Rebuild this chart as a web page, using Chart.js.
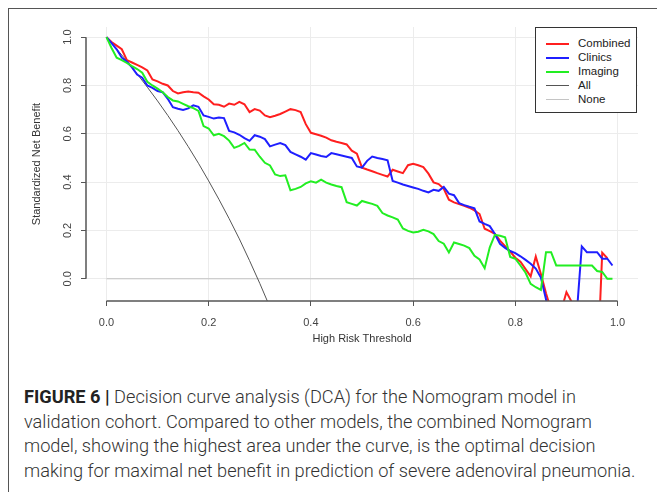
<!DOCTYPE html>
<html>
<head>
<meta charset="utf-8">
<script src="https://cdn.jsdelivr.net/npm/chart.js@4.4.1/dist/chart.umd.min.js"></script>
<style>
  html, body { margin: 0; padding: 0; background: #fff; }
  body { width: 657px; height: 492px; position: relative; overflow: hidden; }
  #frame { position: absolute; left: 8px; top: 8px; width: 700px; height: 520px;
           border-left: 1.5px solid #555; border-top: 1.5px solid #555; }
  #chart { position: absolute; left: 0; top: 0; }
  #legend { position: absolute; left: 535px; top: 27px; width: 100px; height: 84px;
            border: 1px solid #333; background: #fff;
            font-family: "Liberation Sans", Arial, sans-serif; font-size: 11.5px; color: #222; }
  #legend .row { position: absolute; left: 0; height: 14px; line-height: 14px; }
  #legend .sw { position: absolute; left: 10px; width: 23px; top: 7px; }
  #legend .lab { position: absolute; left: 42px; top: 0; white-space: nowrap; }
  #caption { position: absolute; left: 24px; top: 385px; white-space: nowrap;
             font-family: Roboto, "Noto Sans", sans-serif; font-weight: 300;
             font-size: 18.2px; line-height: 24.5px; color: #333; }
  #caption b { font-weight: 700; color: #222; }
</style>
</head>
<body>
<div id="frame"></div>
<canvas id="chart" width="657" height="360"></canvas>
<div id="legend"></div>
<div id="caption">
  <b>FIGURE 6 |</b> Decision curve analysis (DCA) for the Nomogram model in<br>
  validation cohort. Compared to other models, the combined Nomogram<br>
  model, showing the highest area under the curve, is the optimal decision<br>
  making for maximal net benefit in prediction of severe adenoviral pneumonia.
</div>
<script>
// thresholds (x) shared by the three model curves
const thresholds = [
  0.00, 0.01, 0.02, 0.03, 0.04, 0.05, 0.06, 0.07, 0.08, 0.09,
  0.10, 0.11, 0.12, 0.13, 0.14, 0.15, 0.16, 0.17, 0.18, 0.19,
  0.20, 0.21, 0.22, 0.23, 0.24, 0.25, 0.26, 0.27, 0.28, 0.29,
  0.30, 0.31, 0.32, 0.33, 0.34, 0.35, 0.36, 0.37, 0.38, 0.39,
  0.40, 0.41, 0.42, 0.43, 0.44, 0.45, 0.46, 0.47, 0.48, 0.49,
  0.50, 0.51, 0.52, 0.53, 0.54, 0.55, 0.56, 0.57, 0.58, 0.59,
  0.60, 0.61, 0.62, 0.63, 0.64, 0.65, 0.66, 0.67, 0.68, 0.69,
  0.70, 0.71, 0.72, 0.73, 0.74, 0.75, 0.76, 0.77, 0.78, 0.79,
  0.80, 0.81, 0.82, 0.83, 0.84, 0.85, 0.86, 0.87, 0.88, 0.89,
  0.90, 0.91, 0.92, 0.93, 0.94, 0.95, 0.96, 0.97, 0.98, 0.99
];

// standardized net benefit (combined stops at 0.98)
const combined = [
  1.000, 0.980, 0.965, 0.950, 0.905, 0.895, 0.885, 0.875, 0.862, 0.825,
  0.817, 0.807, 0.800, 0.777, 0.767, 0.772, 0.775, 0.772, 0.770, 0.755,
  0.742, 0.722, 0.720, 0.712, 0.725, 0.720, 0.732, 0.722, 0.690, 0.702,
  0.696, 0.676, 0.669, 0.675, 0.682, 0.692, 0.702, 0.698, 0.690, 0.640,
  0.604, 0.598, 0.592, 0.584, 0.573, 0.567, 0.562, 0.556, 0.530, 0.518,
  0.460, 0.452, 0.445, 0.437, 0.430, 0.423, 0.451, 0.444, 0.437, 0.470,
  0.476, 0.470, 0.462, 0.435, 0.399, 0.392, 0.372, 0.327, 0.316, 0.309,
  0.302, 0.294, 0.283, 0.268, 0.207, 0.197, 0.186, 0.158, 0.135, 0.112,
  0.087, 0.071, 0.040, 0.010, 0.092, 0.020, -0.060, -0.130, -0.200, -0.130,
  -0.055, -0.095, -0.200, -0.250, -0.250, -0.250, -0.400, 0.108, 0.085
];
const clinics = [
  1.000, 0.975, 0.950, 0.915, 0.898, 0.875, 0.845, 0.832, 0.800, 0.790,
  0.777, 0.772, 0.745, 0.710, 0.704, 0.699, 0.705, 0.718, 0.712, 0.676,
  0.670, 0.663, 0.667, 0.665, 0.612, 0.606, 0.596, 0.582, 0.571, 0.594,
  0.588, 0.578, 0.548, 0.555, 0.562, 0.553, 0.525, 0.515, 0.505, 0.493,
  0.520, 0.514, 0.508, 0.504, 0.520, 0.515, 0.510, 0.505, 0.500, 0.465,
  0.460, 0.488, 0.506, 0.500, 0.496, 0.490, 0.405, 0.398, 0.390, 0.384,
  0.378, 0.372, 0.364, 0.357, 0.368, 0.364, 0.380, 0.352, 0.346, 0.313,
  0.305, 0.298, 0.292, 0.237, 0.227, 0.218, 0.185, 0.145, 0.128, 0.115,
  0.106, 0.093, 0.078, 0.062, 0.042, 0.005, -0.085, -0.200, -0.250, -0.250,
  -0.250, -0.250, -0.150, 0.134, 0.110, 0.110, 0.110, 0.083, 0.083, 0.055
];
const imaging = [
  1.000, 0.955, 0.915, 0.905, 0.893, 0.880, 0.868, 0.853, 0.815, 0.800,
  0.787, 0.772, 0.752, 0.738, 0.734, 0.724, 0.714, 0.706, 0.695, 0.632,
  0.622, 0.594, 0.600, 0.590, 0.572, 0.542, 0.550, 0.562, 0.535, 0.534,
  0.505, 0.480, 0.469, 0.432, 0.425, 0.428, 0.366, 0.372, 0.380, 0.395,
  0.403, 0.398, 0.410, 0.398, 0.390, 0.384, 0.379, 0.317, 0.310, 0.303,
  0.322, 0.316, 0.310, 0.302, 0.272, 0.262, 0.254, 0.245, 0.208, 0.198,
  0.192, 0.195, 0.203, 0.196, 0.185, 0.156, 0.145, 0.109, 0.150, 0.144,
  0.137, 0.127, 0.095, 0.080, 0.044, 0.130, 0.182, 0.178, 0.172, 0.090,
  0.083, 0.055, 0.025, -0.021, -0.035, -0.046, 0.110, 0.110, 0.055, 0.055,
  0.055, 0.055, 0.055, 0.055, 0.055, 0.055, 0.032, 0.028, 0.000, 0.000
];

// treat-all curve and treat-none line
const allX = [0.00, 0.02, 0.04, 0.06, 0.08, 0.10, 0.12, 0.14, 0.16, 0.18, 0.20, 0.22, 0.24, 0.26, 0.28, 0.30, 0.32];
const allY = [1.000, 0.951, 0.901, 0.848, 0.793, 0.736, 0.676, 0.613, 0.547, 0.478, 0.405, 0.329, 0.249, 0.165, 0.075, -0.019, -0.118];
const noneX = [0.00, 0.99];
const noneY = [0.00, 0.00];

const xTicks = [0.0, 0.2, 0.4, 0.6, 0.8, 1.0];
const yTicks = [0.0, 0.2, 0.4, 0.6, 0.8, 1.0];

const toPoints = (xs, ys) => ys.map((y, i) => ({ x: xs[i], y: y }));

const series = [
  { label: "Combined", xs: thresholds, ys: combined, color: "#ff1f1f", width: 2, order: 3 },
  { label: "Clinics", xs: thresholds, ys: clinics, color: "#1f1fff", width: 2, order: 2 },
  { label: "Imaging", xs: thresholds, ys: imaging, color: "#22ee22", width: 2, order: 1 },
  { label: "All", xs: allX, ys: allY, color: "#555555", width: 1, order: 4 },
  { label: "None", xs: noneX, ys: noneY, color: "#c4c4c4", width: 1, order: 5 },
];

const font = { family: "'Liberation Sans', Arial, sans-serif", size: 11 };

// R-style axes: lines only from 0 to 1
const axisLines = {
  id: "axisLines",
  afterDraw(chart) {
    const { ctx, chartArea, scales } = chart;
    ctx.save();
    ctx.strokeStyle = "#555";
    ctx.lineWidth = 1.5;
    ctx.beginPath();
    ctx.moveTo(scales.x.getPixelForValue(0), chartArea.bottom);
    ctx.lineTo(scales.x.getPixelForValue(1), chartArea.bottom);
    ctx.moveTo(chartArea.left, scales.y.getPixelForValue(0));
    ctx.lineTo(chartArea.left, scales.y.getPixelForValue(1));
    ctx.stroke();
    ctx.restore();
  },
};

new Chart(document.getElementById("chart"), {
  type: "line",
  data: {
    datasets: series.map((s) => ({
      label: s.label,
      data: toPoints(s.xs, s.ys),
      borderColor: s.color,
      borderWidth: s.width,
      pointRadius: 0,
      tension: 0,
      fill: false,
      clip: 0,
      order: s.order,
    })),
  },
  options: {
    responsive: false,
    animation: false,
    layout: { padding: { top: 27, right: 19, left: 0, bottom: 0 } },
    plugins: { legend: { display: false }, tooltip: { enabled: false } },
    scales: {
      x: {
        type: "linear",
        min: -0.04,
        max: 1.04,
        afterBuildTicks: (s) => { s.ticks = xTicks.map((v) => ({ value: v })); },
        afterFit: (s) => { s.height = 59; },
        ticks: { font: font, color: "#444", padding: 10, maxRotation: 0,
                 callback: (v) => v.toFixed(1) },
        grid: { color: "#ececec", tickColor: "#555", tickLength: 5, lineWidth: 1 },
        border: { display: false },
        title: { display: true, text: "High Risk Threshold", font: font, color: "#333",
                 padding: { top: 0, bottom: 14.4 } },
      },
      y: {
        type: "linear",
        min: -0.092,
        max: 1.042,
        afterBuildTicks: (s) => { s.ticks = yTicks.map((v) => ({ value: v })); },
        afterFit: (s) => { s.width = 86; },
        ticks: { font: font, color: "#444", padding: 5, minRotation: 90, maxRotation: 90,
                 crossAlign: "center", callback: (v) => v.toFixed(1) },
        grid: { color: "#ececec", tickColor: "#555", tickLength: 5, lineWidth: 1 },
        border: { display: false },
        title: { display: true, text: "Standardized Net Benefit", font: font, color: "#333",
                 padding: { top: 30, bottom: 0 } },
      },
    },
  },
  plugins: [axisLines],
});

// legend box
const legend = document.getElementById("legend");
series.forEach((s, i) => {
  const row = document.createElement("div");
  row.className = "row";
  row.style.top = (7.5 + i * 14.2) + "px";
  const sw = document.createElement("div");
  sw.className = "sw";
  sw.style.borderTop = (s.width === 2 ? 2.5 : 1.5) + "px solid " + s.color;
  const lab = document.createElement("div");
  lab.className = "lab";
  lab.textContent = s.label;
  row.appendChild(sw);
  row.appendChild(lab);
  legend.appendChild(row);
});
</script>
</body>
</html>
